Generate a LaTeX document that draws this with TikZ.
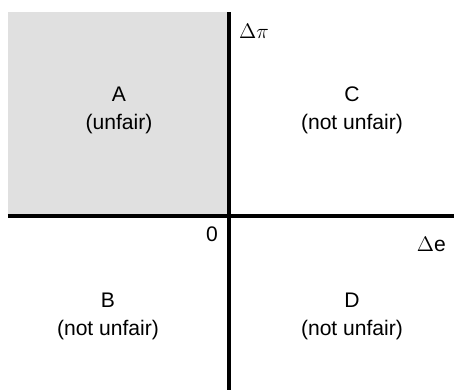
\documentclass[tikz,border=0pt]{standalone}
\usepackage{fontspec}
\setmainfont{Liberation Sans}
\usepackage{tikz}
\usetikzlibrary{positioning}
\definecolor{quadShade}{HTML}{E0E0E0}

\begin{document}
\begin{tikzpicture}[
        x=0.02cm,y=-0.02cm,
        every node/.style={font=\fontsize{12}{16}\selectfont},
        region/.style={align=center,inner sep=2pt},
        axis/.style={line width=2pt,color=black}
      ]
        \useasboundingbox (0,0) rectangle (454,390);
        \coordinate (o) at (229,216);
        \coordinate (ytop) at (229,12);
        \coordinate (ybot) at (229,390);
        \coordinate (xleft) at (8,216);
        \coordinate (xright) at (454,216);
        \fill[quadShade] (8,12) rectangle (o);
        \draw[axis] (xleft)--(xright);
        \draw[axis] (ytop)--(ybot);
        \node[region] (qa) at (119,110) {A\\(unfair)};
        \node[region] (qc) at (352,110) {C\\(not unfair)};
        \node[region] (qb) at (108,316) {B\\(not unfair)};
        \node[region] (qd) at (352,316) {D\\(not unfair)};
        \node[anchor=west] (dpi) at (233,31) {$\Delta\pi$};
        \node[anchor=east] (zero) at (224,234) {0};
        \node[anchor=east] (de) at (452,244) {$\Delta$e};
      \end{tikzpicture}
\end{document}
